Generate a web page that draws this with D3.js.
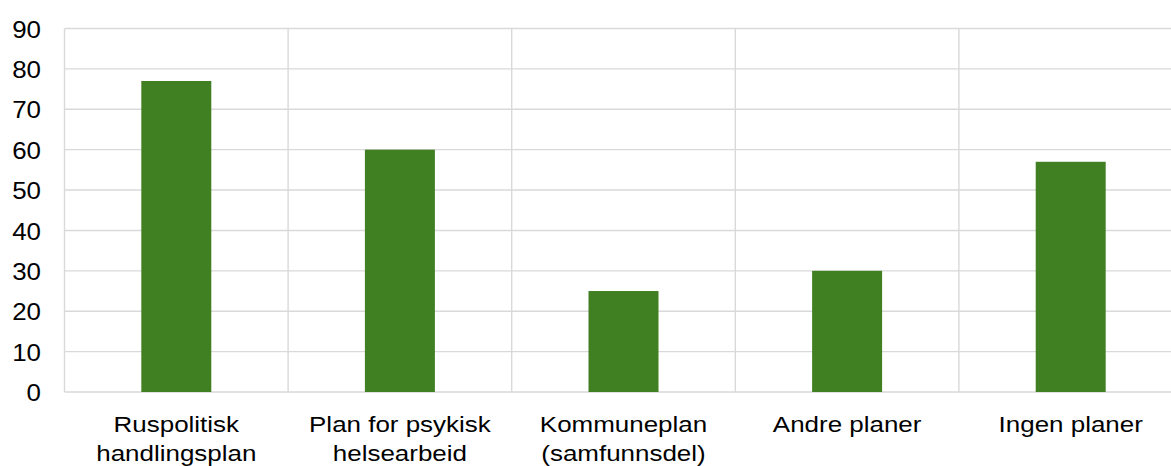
<!DOCTYPE html>
<html>
<head>
<meta charset="utf-8">
<script src="https://cdn.jsdelivr.net/npm/d3@7.9.0/dist/d3.min.js"></script>
<style>
  html, body { margin: 0; padding: 0; background: #fff; }
  svg { display: block; font-family: "Liberation Sans", Arial, sans-serif; }
</style>
</head>
<body>
<svg id="chart" width="1171" height="466"></svg>
<script>
// data
const categories = [
  ["Ruspolitisk", "handlingsplan"],
  ["Plan for psykisk", "helsearbeid"],
  ["Kommuneplan", "(samfunnsdel)"],
  ["Andre planer"],
  ["Ingen planer"]
];
const values = [77, 60, 25, 30, 57];
const yTicks = [0, 10, 20, 30, 40, 50, 60, 70, 80, 90];

const margin = { top: 28.5, left: 64.5 };
const bandW = 223.6;
const plotH = 392 - margin.top;
const stretch = 1.18; // category text in the reference looks wider than normal

const svg = d3.select('#chart');

const x = d3.scaleBand()
  .domain(d3.range(categories.length))
  .range([margin.left, margin.left + bandW * categories.length])
  .padding(0);

const y = d3.scaleLinear()
  .domain([0, 90])
  .range([margin.top + plotH, margin.top]);

const grid = svg.append('g').attr('stroke', '#d9d9d9').attr('stroke-width', 1.4);

// horizontal gridlines
yTicks.forEach(t => {
  grid.append('line')
    .attr('x1', x.range()[0]).attr('x2', x.range()[1])
    .attr('y1', y(t)).attr('y2', y(t));
});

// vertical lines between categories
d3.range(categories.length + 1).forEach(i => {
  const xx = margin.left + i * x.bandwidth();
  grid.append('line')
    .attr('x1', xx).attr('x2', xx)
    .attr('y1', y(90)).attr('y2', y(0));
});

// bars
const barW = x.bandwidth() * 0.313;
svg.append('g').selectAll('rect')
  .data(values)
  .join('rect')
  .attr('x', (d, i) => x(i) + (x.bandwidth() - barW) / 2)
  .attr('width', barW)
  .attr('y', d => y(d))
  .attr('height', d => y(0) - y(d))
  .attr('fill', '#417f23');

// y tick labels
svg.append('g').selectAll('text')
  .data(yTicks)
  .join('text')
  .attr('transform', d => `translate(41,${y(d) + 9.2}) scale(1.08,1)`)
  .attr('text-anchor', 'end')
  .attr('font-size', 24)
  .attr('fill', '#000')
  .text(d => d);

// category labels
const labels = svg.append('g').selectAll('text')
  .data(categories)
  .join('text')
  .attr('transform', (d, i) => `translate(${x(i) + x.bandwidth() / 2},432) scale(${stretch},1)`)
  .attr('text-anchor', 'middle')
  .attr('font-size', 22)
  .attr('fill', '#000');

labels.selectAll('tspan')
  .data(d => d)
  .join('tspan')
  .attr('x', 0)
  .attr('dy', (d, i) => i === 0 ? 0 : 29)
  .text(d => d);
</script>
</body>
</html>
